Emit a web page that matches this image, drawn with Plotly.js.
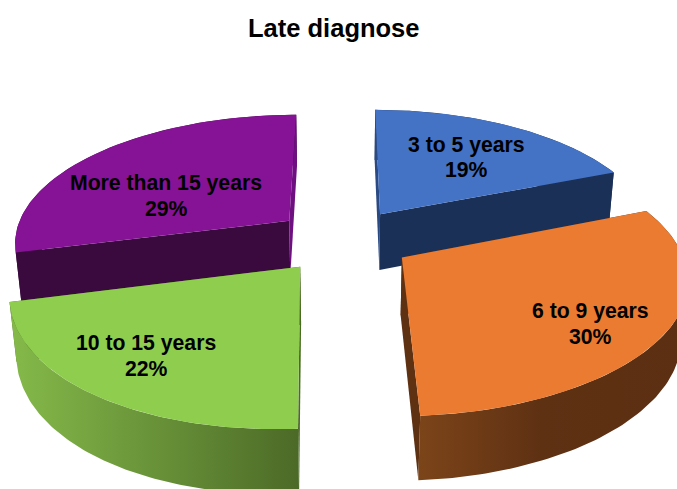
<!DOCTYPE html>
<html><head><meta charset="utf-8">
<script src="https://cdn.plot.ly/plotly-3.0.1.min.js"></script>
<style>html,body{margin:0;padding:0;background:#fff}#c{width:677px;height:489px}</style></head>
<body><div id="c"></div>
<script>
const categories = ["3 to 5 years","6 to 9 years","10 to 15 years","More than 15 years"];
const shares = [19,30,22,29];
const topColors = ["#4472C4","#EA7B30","#8FCD4F","#861396"];
const wallColors = [["#1B3057","#1B3057"],[[0,"#7C4419"],[0.45,"#5F3113"],[1,"#5C2F12"]],[[0,"#85BA4A"],[1,"#4C6A27"]],["#3A0A3F","#3A0A3F"]];
const startCutColors = ["#2A4A85","#5E3113","#4C6A27","#3A0A3F"];
const endCutColors = ["#1B3057","#5E3113","#4C6A27","#6E1080"];
const labelPos = [[466,145,169],[590,311,336],[146,343,368],[166,183,208]];
const frontSlice = [false,true,true,false];

// Tilted-pie projection (perspective view of a cylinder cut into exploded wedges)
const cx=342.5, cy=240, R=276, B=128, pers=0.155, T=58, shrink=0.02, explode=0.25, skew=9;
function project(u,v,z){
  const D=1+pers*v+shrink*z;
  return [cx+(R*u+skew*Math.min(v,0)*Math.abs(v))/D, cy-B*v/D+T*z/D];
}
function wedge(i){
  const total=shares.reduce((a,b)=>a+b,0);
  const before=shares.slice(0,i).reduce((a,b)=>a+b,0);
  const a0=before/total*2*Math.PI, a1=(before+shares[i])/total*2*Math.PI, m=(a0+a1)/2;
  return {a0,a1,ox:explode*Math.sin(m),oy:explode*Math.cos(m)};
}
function arc(w,z){
  const out=[];
  for(let k=0;k<=90;k++){
    const a=w.a0+(w.a1-w.a0)*k/90;
    out.push(project(w.ox+Math.sin(a),w.oy+Math.cos(a),z));
  }
  return out;
}
function poly(pts,color,stops,name){
  const t={type:"scatter",mode:"lines",x:pts.map(p=>p[0]),y:pts.map(p=>p[1]),fill:"toself",
    line:{width:0},hoverinfo:"text",text:name,showlegend:false,fillcolor:color};
  if(stops) t.fillgradient={type:"horizontal",colorscale:stops};
  return t;
}
const traces=[];
function addSlice(i){
  const w=wedge(i), t=arc(w,0), b=arc(w,1);
  const ap0=project(w.ox,w.oy,0), ap1=project(w.ox,w.oy,1);
  const name=categories[i]+": "+shares[i]+"%";
  const wc=wallColors[i];
  const stops=Array.isArray(wc[0])?wc:null;
  const outer=poly(t.concat(b.slice().reverse()),stops?stops[0][1]:wc[0],stops,name);
  const cuts=[poly([ap0,t[0],b[0],ap1,ap0],startCutColors[i],null,name),
              poly([ap0,t[90],b[90],ap1,ap0],endCutColors[i],null,name)];
  if(frontSlice[i]) traces.push(...cuts,outer); else traces.push(outer,...cuts);
  traces.push(poly([ap0].concat(t,[ap0]),topColors[i],null,name));
}
[3,0,2,1].forEach(addSlice);

const labelFont={family:"Liberation Sans, Arial, sans-serif",size:21.2,color:"#000"};
const annotations=[];
categories.forEach((c,i)=>{
  annotations.push({x:labelPos[i][0],y:labelPos[i][1],xref:"x",yref:"y",showarrow:false,text:"<b>"+c+"</b>",font:labelFont});
  annotations.push({x:labelPos[i][0],y:labelPos[i][2],xref:"x",yref:"y",showarrow:false,text:"<b>"+shares[i]+"%</b>",font:labelFont});
});

Plotly.newPlot("c",traces,{
  width:677,height:489,margin:{l:0,r:0,t:0,b:0},paper_bgcolor:"#fff",plot_bgcolor:"#fff",showlegend:false,
  title:{text:"<b>Late diagnose</b>",x:0.493,xanchor:"center",y:0.943,yanchor:"middle",font:{family:"Liberation Sans, Arial, sans-serif",size:25.5,color:"#000"}},
  xaxis:{range:[0,677],visible:false,fixedrange:true},
  yaxis:{range:[489,0],visible:false,fixedrange:true},
  annotations
},{displayModeBar:false,staticPlot:true});
</script></body></html>
